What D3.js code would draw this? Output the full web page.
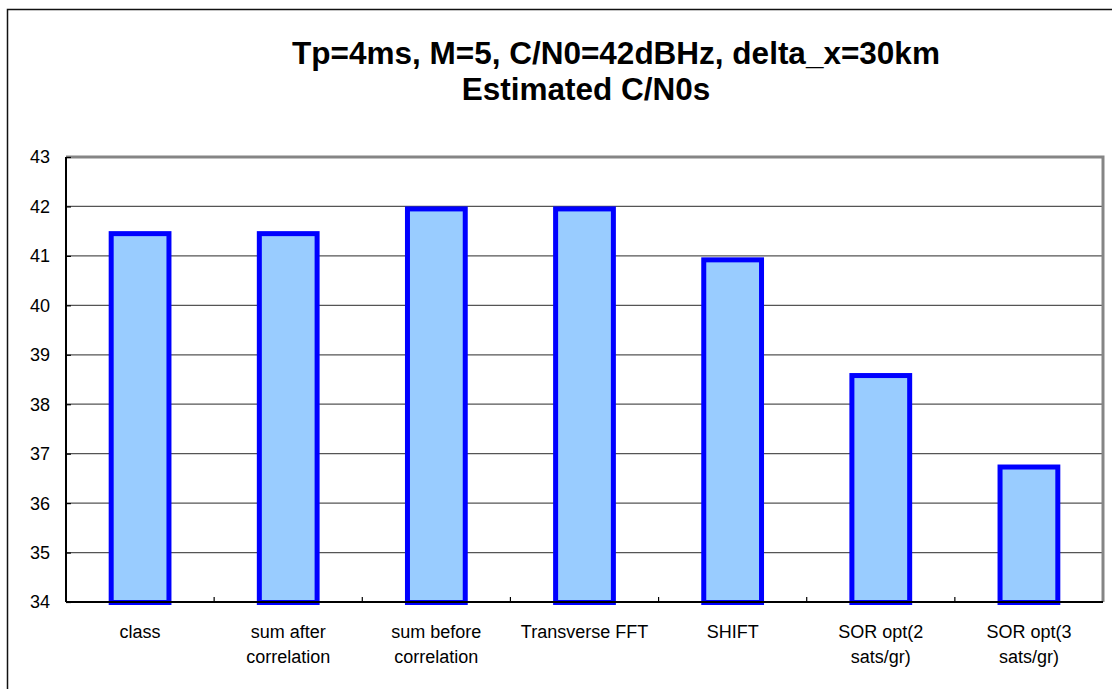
<!DOCTYPE html>
<html>
<head>
<meta charset="utf-8">
<script src="https://cdn.jsdelivr.net/npm/d3@7"></script>
<style>
  html, body { margin: 0; padding: 0; background: #fff; }
  svg { display: block; }
  text { font-family: Arial, "Liberation Sans", sans-serif; fill: #000; }
</style>
</head>
<body>
<svg id="chart" width="1112" height="689"></svg>
<script>
// ---- data ----
const categories = [
  ["class"],
  ["sum after", "correlation"],
  ["sum before", "correlation"],
  ["Transverse FFT"],
  ["SHIFT"],
  ["SOR opt(2", "sats/gr)"],
  ["SOR opt(3", "sats/gr)"]
];
const values = [41.45, 41.45, 41.95, 41.95, 40.92, 38.58, 36.73];
const yTicks = [34, 35, 36, 37, 38, 39, 40, 41, 42, 43];
const titleLines = ["Tp=4ms, M=5, C/N0=42dBHz, delta_x=30km", "Estimated C/N0s"];

// ---- layout ----
const W = 1112, H = 689;
const plot = { left: 66, right: 1103, top: 157, bottom: 602 };

const svg = d3.select("#chart");

// outer chart border (extends beyond right/bottom)
svg.append("rect")
  .attr("x", 7.5).attr("y", 9.5)
  .attr("width", W + 20).attr("height", H + 20)
  .attr("fill", "none").attr("stroke", "#111").attr("stroke-width", 1.5);

// title
const titleX = [616, 586];
const titleY = [63.5, 100];
svg.selectAll("text.title").data(titleLines).join("text")
  .attr("class", "title")
  .attr("x", (d, i) => titleX[i])
  .attr("y", (d, i) => titleY[i])
  .attr("text-anchor", "middle")
  .attr("font-weight", "bold")
  .attr("font-size", "31.5px")
  .text(d => d);

// scales
const x = d3.scaleBand()
  .domain(d3.range(categories.length))
  .range([plot.left, plot.right])
  .paddingInner(0.61)
  .paddingOuter(0.305);
const step = (plot.right - plot.left) / categories.length;

const y = d3.scaleLinear()
  .domain([34, 43])
  .range([plot.bottom, plot.top]);

// gridlines
svg.append("g").selectAll("line").data(yTicks.slice(1, -1)).join("line")
  .attr("x1", plot.left).attr("x2", plot.right)
  .attr("y1", d => y(d)).attr("y2", d => y(d))
  .attr("stroke", "#555").attr("stroke-width", 1.2);

// plot area border (top and right gray)
svg.append("path")
  .attr("d", `M${plot.left},${plot.top}H${plot.right}V${plot.bottom}`)
  .attr("fill", "none").attr("stroke", "#858585").attr("stroke-width", 3);

// bars
svg.append("g").selectAll("rect").data(values).join("rect")
  .attr("x", (d, i) => x(i))
  .attr("width", x.bandwidth())
  .attr("y", d => y(d))
  .attr("height", d => y(34) - y(d) + 0.5)
  .attr("fill", "#99ccff")
  .attr("stroke", "#0000ff")
  .attr("stroke-width", 5);

// y axis (ticks inside)
const yAxis = d3.axisLeft(y).tickValues(yTicks).tickSize(-5).tickPadding(16).tickFormat(d3.format("d"));
const gy = svg.append("g").attr("transform", `translate(${plot.left},0)`).call(yAxis);
gy.select(".domain").attr("stroke", "#000").attr("stroke-width", 2)
  .attr("d", `M0,${plot.top}V${plot.bottom}`);
gy.selectAll(".tick line").attr("stroke", "#000").attr("stroke-width", 1.2);
gy.selectAll(".tick text")
  .attr("font-size", "18px")
  .attr("font-family", "Arial, 'Liberation Sans', sans-serif")
  .attr("fill", "#000")
  .attr("dy", "0.33em");

// x axis line
svg.append("line")
  .attr("x1", plot.left).attr("x2", plot.right)
  .attr("y1", plot.bottom).attr("y2", plot.bottom)
  .attr("stroke", "#000").attr("stroke-width", 2);

// x category boundary ticks (inside, upward)
svg.append("g").selectAll("line").data(d3.range(1, categories.length)).join("line")
  .attr("x1", d => plot.left + d * step).attr("x2", d => plot.left + d * step)
  .attr("y1", plot.bottom).attr("y2", plot.bottom - 5)
  .attr("stroke", "#000").attr("stroke-width", 1.2);

// x labels
const lab = svg.append("g").selectAll("text").data(categories).join("text")
  .attr("x", (d, i) => x(i) + x.bandwidth() / 2)
  .attr("y", 637.5)
  .attr("text-anchor", "middle")
  .attr("font-size", "18px");
lab.selectAll("tspan").data(d => d).join("tspan")
  .attr("x", function () { return d3.select(this.parentNode).attr("x"); })
  .attr("dy", (d, i) => i === 0 ? 0 : 25.5)
  .text(d => d);
</script>
</body>
</html>
